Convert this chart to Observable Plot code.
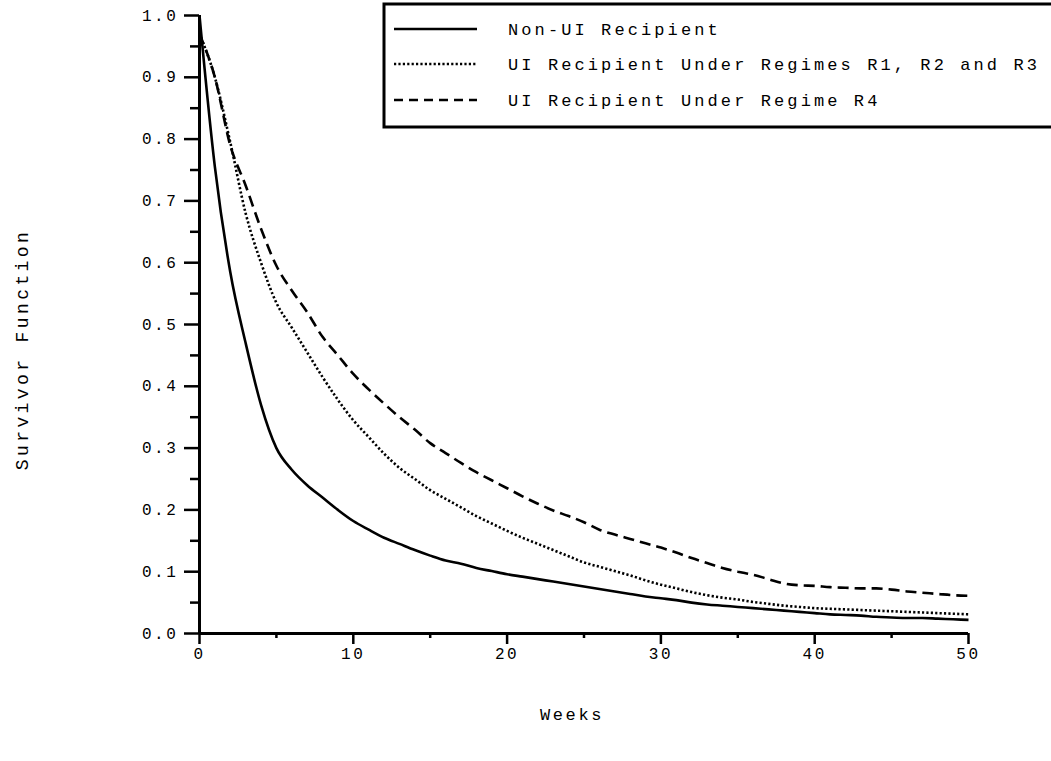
<!DOCTYPE html>
<html><head><meta charset="utf-8">
<script src="https://cdn.jsdelivr.net/npm/d3@7"></script>
<script src="https://cdn.jsdelivr.net/npm/@observablehq/plot@0.6"></script>
<style>
html,body{margin:0;padding:0;background:#fff;overflow:hidden;}
#wrap{position:relative;width:1051px;height:761px;overflow:hidden;}
#wrap svg text{letter-spacing:2.6px;}
#legend{position:absolute;left:0;top:0;}
</style></head><body><div id="wrap"></div>
<script>
const weeks = d3.range(0, 51);
const nonUI = [1.00,0.755,0.585,0.47,0.37,0.30,0.265,0.24,0.22,0.20,
  0.182,0.168,0.155,0.145,0.135,0.126,0.118,0.113,0.106,0.101,
  0.096,0.092,0.088,0.084,0.080,0.076,0.072,0.068,0.064,0.060,
  0.057,0.054,0.050,0.047,0.045,0.043,0.041,0.039,0.037,0.035,
  0.033,0.031,0.030,0.029,0.027,0.026,0.025,0.025,0.024,0.023,0.022];
const uiR123 = [0.97,0.90,0.795,0.68,0.60,0.535,0.495,0.455,0.415,0.378,
  0.345,0.318,0.291,0.268,0.25,0.232,0.218,0.204,0.19,0.178,
  0.166,0.155,0.145,0.135,0.125,0.115,0.108,0.101,0.094,0.086,
  0.079,0.073,0.067,0.062,0.058,0.055,0.051,0.048,0.045,0.043,
  0.041,0.040,0.039,0.038,0.037,0.036,0.035,0.034,0.033,0.032,0.031];
const uiR4 = [0.97,0.90,0.79,0.725,0.655,0.595,0.555,0.52,0.48,0.45,
  0.42,0.395,0.372,0.35,0.33,0.308,0.292,0.276,0.261,0.248,
  0.235,0.222,0.21,0.199,0.19,0.18,0.168,0.16,0.153,0.146,
  0.139,0.131,0.122,0.114,0.106,0.10,0.095,0.088,0.081,0.078,
  0.077,0.075,0.074,0.073,0.073,0.071,0.068,0.066,0.064,0.062,0.061];
const seriesNames = ["Non-UI Recipient", "UI Recipient Under Regimes R1, R2 and R3", "UI Recipient Under Regime R4"];
const xMajorTicks = [0, 10, 20, 30, 40, 50];
const xMinorTicks = [5, 15, 25, 35, 45];
const yMajorTicks = [0, 0.1, 0.2, 0.3, 0.4, 0.5, 0.6, 0.7, 0.8, 0.9, 1.0];
const yMinorTicks = [0.05, 0.15, 0.25, 0.35, 0.45, 0.55, 0.65, 0.75, 0.85, 0.95];
const xLabel = "Weeks";
const yLabel = "Survivor Function";

const seriesValues = [nonUI, uiR123, uiR4];
const dashes = [null, "2.2,2.2", "11,6"];
const widths = [2.6, 2.6, 2.6];
const rows = [];
seriesValues.forEach((vals, i) => weeks.forEach((w, j) => rows.push({week: w, value: vals[j], series: seriesNames[i]})));

const lineMarks = seriesNames.map((name, i) => Plot.line(rows.filter(r => r.series === name), {
  x: "week", y: "value", stroke: "#000", strokeWidth: widths[i],
  strokeDasharray: dashes[i] || undefined, strokeLinecap: "butt", curve: "monotone-x"
}));

const chart = Plot.plot({
  width: 1051, height: 761,
  marginLeft: 199, marginRight: 83, marginTop: 15, marginBottom: 128,
  x: {domain: [0, 50]},
  y: {domain: [0, 1]},
  style: {fontFamily: "'Liberation Mono', monospace", fontSize: "16px", color: "#000", background: "#fff"},
  marks: [
    Plot.axisX(xMajorTicks, {tickSize: 11, tickPadding: 3, strokeWidth: 2.5, label: null, tickFormat: d => String(d), fontSize: 16}),
    Plot.axisX(xMinorTicks, {tickSize: 5, strokeWidth: 2.5, label: null, tickFormat: null, text: null}),
    Plot.axisY(yMajorTicks, {tickSize: 15, tickPadding: 6, strokeWidth: 2.5, label: null, tickFormat: d3.format(".1f"), fontSize: 16}),
    Plot.axisY(yMinorTicks, {tickSize: 9, strokeWidth: 2.5, label: null, tickFormat: null, text: null}),
    Plot.ruleX([0], {stroke: "#000", strokeWidth: 3}),
    Plot.ruleY([0], {stroke: "#000", strokeWidth: 3}),
    ...lineMarks,
    Plot.text([yLabel], {frameAnchor: "left", textAnchor: "middle", rotate: -90, dx: -177, dy: 25, fontSize: 18, fill: "#000"}),
    Plot.text([xLabel], {frameAnchor: "bottom", dx: -12, dy: 86, fontSize: 17, fill: "#000"})
  ]
});
const wrap = document.getElementById("wrap");
wrap.appendChild(chart);
d3.select(chart).selectAll("text").filter(function() { return this.textContent === yLabel; }).style("letter-spacing", "3.4px");

// Legend overlay
const leg = d3.select(wrap).append("svg").attr("id", "legend").attr("width", 1051).attr("height", 140);
leg.append("rect").attr("x", 384).attr("y", 4).attr("width", 720).attr("height", 123)
  .attr("fill", "#fff").attr("stroke", "#000").attr("stroke-width", 3);
const rowY = [29, 64, 100];
seriesNames.forEach((name, i) => {
  leg.append("line").attr("x1", 394).attr("x2", 477).attr("y1", rowY[i]).attr("y2", rowY[i])
    .attr("stroke", "#000").attr("stroke-width", 2.6)
    .attr("stroke-dasharray", i === 0 ? null : (i === 1 ? "2.2,2.2" : "9,6"));
  leg.append("text").attr("x", 508).attr("y", rowY[i]).attr("dy", "0.35em")
    .attr("font-family", "'Liberation Mono', monospace").attr("font-size", 17)
    .style("letter-spacing", "3.1px").text(name);
});
</script></body></html>
